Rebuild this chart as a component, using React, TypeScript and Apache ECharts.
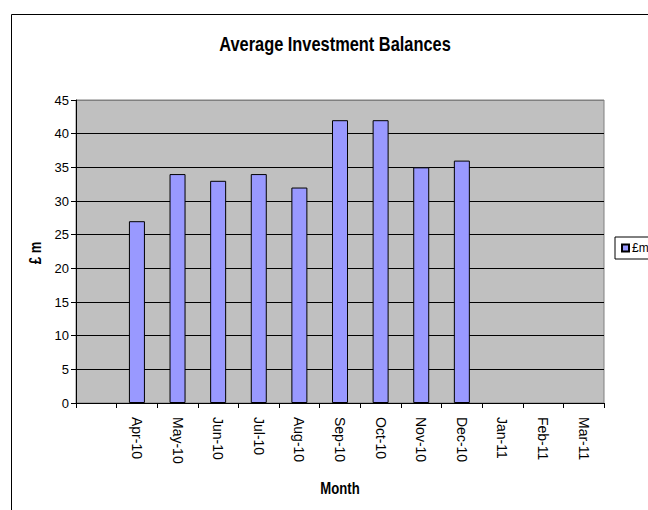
import React, { useEffect, useRef } from "react";
import * as echarts from "echarts";

const categories = ["", "Apr-10", "May-10", "Jun-10", "Jul-10", "Aug-10", "Sep-10", "Oct-10", "Nov-10", "Dec-10", "Jan-11", "Feb-11", "Mar-11"];
const balances: (number | null)[] = [null, 27, 34, 33, 34, 32, 42, 42, 35, 36, null, null, null];
const seriesName = "£m";
const titleText = "Average Investment Balances";
const yAxisName = "£ m";
const xAxisName = "Month";

const SANS = "'Liberation Sans', Arial, sans-serif";
const NARROW_SCALE = 0.82;

export default function App() {
  const ref = useRef<HTMLDivElement>(null);
  useEffect(() => {
    if (!ref.current) return;
    const chart = echarts.init(ref.current, undefined, { renderer: "svg" });
    const splitColors = Array.from({ length: 10 }, (_, i) => (i === 9 ? "#808080" : "#000000"));
    const boldText = (text: string, x: number, y: number, size: number, rotation = 0) => ({
      type: "text",
      x,
      y,
      rotation,
      scaleX: NARROW_SCALE,
      silent: true,
      style: {
        text,
        fill: "#000",
        font: `bold ${size}px ${SANS}`,
        textAlign: "center",
        textVerticalAlign: "middle",
        verticalAlign: "middle",
      },
    });
    chart.setOption({
      animation: false,
      backgroundColor: "#ffffff",
      legend: {
        left: 615,
        top: 237,
        orient: "vertical",
        padding: [5, 6],
        borderColor: "#000",
        borderWidth: 1,
        backgroundColor: "#fff",
        itemWidth: 7,
        itemHeight: 7,
        itemGap: 4,
        textStyle: { fontFamily: SANS, fontSize: 12, color: "#000", padding: [0, 0, 0, -2] },
        data: [{ name: seriesName, icon: "rect" }],
      },
      graphic: [
        {
          type: "rect",
          shape: { x: 11.5, y: 14.5, width: 700, height: 600 },
          style: { fill: "none", stroke: "#000", lineWidth: 1 },
          silent: true,
          z: -10,
        },
        boldText(titleText, 335, 44, 20),
        boldText(xAxisName, 340, 489, 16),
        boldText(yAxisName, 36, 253, 16, Math.PI / 2),
      ],
      grid: {
        left: 76,
        top: 100,
        right: 44,
        bottom: 107,
        show: true,
        backgroundColor: "#c0c0c0",
        borderColor: "#808080",
        borderWidth: 1,
      },
      xAxis: {
        type: "category",
        data: categories,
        boundaryGap: true,
        axisLine: { lineStyle: { color: "#000", width: 1 } },
        axisTick: { show: true, length: 5, alignWithLabel: false, lineStyle: { color: "#000" } },
        axisLabel: {
          rotate: -90,
          margin: 14,
          interval: 0,
          fontFamily: SANS,
          fontSize: 14,
          color: "#000",
        },
        splitLine: { show: false },
      },
      yAxis: {
        type: "value",
        min: 0,
        max: 45,
        interval: 5,
        axisLine: { show: true, lineStyle: { color: "#000", width: 1 } },
        axisTick: { show: true, length: 5, lineStyle: { color: "#000" } },
        axisLabel: { margin: 7, fontFamily: SANS, fontSize: 13, color: "#000" },
        splitLine: { show: true, lineStyle: { color: splitColors, width: 1 } },
      },
      series: [
        {
          name: seriesName,
          type: "bar",
          data: balances,
          barWidth: 16,
          itemStyle: { color: "#9999ff", borderColor: "#000", borderWidth: 1 },
        },
      ],
    });
    return () => chart.dispose();
  }, []);
  return <div ref={ref} style={{ position: "fixed", left: 0, top: 0, width: 648, height: 510 }} />;
}
